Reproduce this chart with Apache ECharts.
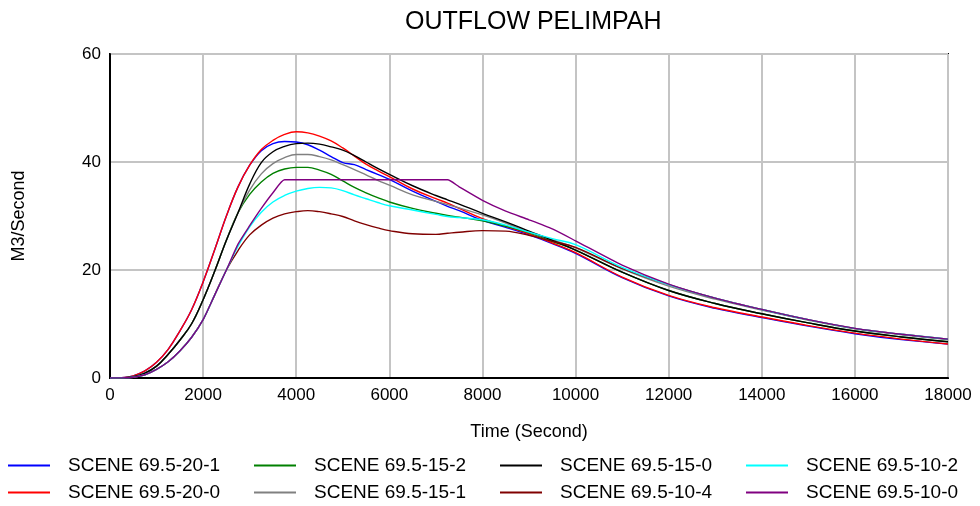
<!DOCTYPE html>
<html>
<head>
<meta charset="utf-8">
<script src="https://cdn.jsdelivr.net/npm/echarts@6/dist/echarts.min.js"></script>
<style>html,body{margin:0;padding:0;background:#fff;}#c{width:980px;height:506px;}</style>
</head>
<body>
<div id="c"></div>
<script>
// Time (Second)
const time = [0,250,500,750,1000,1250,1500,1750,2000,2250,2500,2750,3000,3250,3500,3750,4000,4250,4500,4750,5000,5250,5500,5750,6000,6500,7000,7250,7500,8000,8500,9000,9500,10000,11000,12000,13000,14000,15000,16000,17000,18000];

const scene20_1 = [0,0.05,0.4,1.3,2.9,5.3,8.7,12.6,17.8,
  23.8,30.0,35.4,39.4,42.1,43.4,43.8,43.7,43.2,42.2,41.0,39.9,
  39.5,38.6,37.7,36.8, 34.6,32.7,31.8,31.0, 29.2,27.9,26.5,24.9,23.1,
  18.6,15.2,12.9,11.2,9.6,8.2,7.1,6.3];
const scene20_0 = [0,0.05,0.4,1.3,2.9,5.3,8.7,12.6,17.8,
  23.8,30.0,35.4,39.4,42.3,44.0,45.1,45.6,45.4,44.8,43.9,42.6,
  41.1,39.6,38.4,37.3, 35.0,33.2,32.4,31.4, 29.5,28.1,26.7,25.0,23.2,
  18.7,15.3,13.0,11.3,9.7,8.3,7.2,6.3];
const scene15_2 = [0,0.03,0.25,0.9,2.2,4.4,7.0,10.0,14.5,
  19.8,25.5,30.6,34.0,36.3,37.9,38.7,39.0,39.0,38.5,37.7,36.5,
  35.3,34.3,33.4,32.6, 31.4,30.5,30.1,29.8, 29.1,28.1,26.9,25.3,23.7,
  19.6,16.2,13.8,11.9,10.2,8.7,7.6,6.7];
const scene15_1 = [0,0.03,0.25,0.9,2.2,4.4,7.0,10.0,14.5,
  19.8,25.5,30.6,34.8,37.8,39.7,40.8,41.4,41.4,41.0,40.4,39.5,
  38.6,37.6,36.6,35.7, 33.9,32.7,32.1,31.5, 30.2,28.7,27.0,25.6,24.1,
  20.2,17.0,14.6,12.6,10.7,9.1,8.0,7.1];
const scene15_0 = [0,0.03,0.25,0.9,2.2,4.4,7.0,10.0,14.5,
  19.8,25.5,30.6,35.9,39.9,41.9,42.9,43.4,43.5,43.3,42.8,42.2,
  41.2,40.0,38.8,37.7, 35.6,33.8,33.0,32.2, 30.5,28.9,27.2,25.5,23.7,
  19.6,16.2,13.8,11.9,10.2,8.7,7.6,6.7];
const scene10_4 = [0,0.02,0.15,0.6,1.6,3.0,5.0,7.5,10.8,
  15.4,20.0,23.6,26.5,28.3,29.6,30.4,30.8,31.0,30.8,30.4,29.9,
  29.1,28.4,27.8,27.3, 26.7,26.6,26.8,27.0, 27.3,27.2,26.4,25.3,24.2,
  20.3,17.3,14.8,12.7,10.8,9.2,8.1,7.2];
const scene10_2 = [0,0.02,0.15,0.6,1.6,3.0,5.0,7.5,10.8,
  15.4,20.0,24.4,28.0,30.7,32.6,33.8,34.6,35.1,35.3,35.2,34.7,
  33.9,33.2,32.5,31.9, 31.1,30.3,29.9,29.7, 29.3,28.3,27.0,25.8,24.7,
  20.5,17.3,14.8,12.7,10.8,9.2,8.1,7.2];
const scene10_0 = [0,0.02,0.15,0.6,1.6,3.0,5.0,7.5,10.8,
  15.4,20.0,24.8,28.2,31.4,34.3,36.7,36.7,36.7,36.7,36.7,36.7,
  36.7,36.7,36.7,36.7, 36.7,36.7,36.7,35.4, 32.9,30.9,29.3,27.6,25.4,
  20.9,17.4,14.8,12.7,10.8,9.2,8.1,7.2];

const seriesNames = ['SCENE 69.5-20-1','SCENE 69.5-20-0','SCENE 69.5-15-2','SCENE 69.5-15-1','SCENE 69.5-15-0','SCENE 69.5-10-4','SCENE 69.5-10-2','SCENE 69.5-10-0'];
const seriesValues = [scene20_1, scene20_0, scene15_2, scene15_1, scene15_0, scene10_4, scene10_2, scene10_0];
const seriesColors = ['#0000ff','#ff0000','#008000','#808080','#000000','#800000','#00ffff','#800080'];
const xTicks = {min:0, max:18000, interval:2000};
const yTicks = {min:0, max:60, interval:20};

const FONT = 'Liberation Sans, Arial, sans-serif';
const chart = echarts.init(document.getElementById('c'), null, {renderer:'canvas'});

const series = seriesNames.map((n,i)=>({
  name:n, type:'line', showSymbol:false, symbol:'none',
  smooth: i===7 ? 0.2 : 0.4,
  color: seriesColors[i],
  lineStyle:{width:1.4, color:seriesColors[i]},
  data: time.map((t,k)=>[t, seriesValues[i][k]])
}));

// legend layout: 4 columns x 2 rows
const legendOrder = [0,2,4,6,1,3,5,7];
const colLeft = [8,254,500,746];
const rowTop = [456,483];
const legends = legendOrder.map((si,k)=>({
  data:[seriesNames[si]], left: colLeft[k%4], top: rowTop[Math.floor(k/4)],
  padding:0, itemWidth:42, itemHeight:2, icon:'rect',
  textStyle:{fontFamily:FONT, fontSize:19, color:'#000', padding:[0,0,0,13]}
}));

chart.setOption({
  animation:false,
  backgroundColor:'#fff',
  title:{text:'OUTFLOW PELIMPAH', left:400, top:5,
    textStyle:{fontFamily:FONT, fontSize:25, fontWeight:'normal', color:'#000'}},
  legend: legends,
  grid:{left:110, right:32, top:54, bottom:128, show:true, borderColor:'#000', borderWidth:2, backgroundColor:'transparent'},
  xAxis:{type:'value', min:xTicks.min, max:xTicks.max, interval:xTicks.interval,
    name:'Time (Second)', nameLocation:'middle', nameGap:45,
    nameTextStyle:{fontFamily:FONT, fontSize:18, color:'#000'},
    axisLine:{show:true, lineStyle:{color:'#000', width:2}},
    axisTick:{show:false},
    axisLabel:{fontFamily:FONT, fontSize:17, color:'#000', margin:9, formatter:(v)=>String(v)},
    splitLine:{show:true, lineStyle:{color:'#c4c4c4', width:2}}},
  yAxis:{type:'value', min:yTicks.min, max:yTicks.max, interval:yTicks.interval,
    name:'M3/Second', nameLocation:'middle', nameGap:82, nameRotate:90,
    nameTextStyle:{fontFamily:FONT, fontSize:18, color:'#000'},
    axisLine:{show:true, lineStyle:{color:'#000', width:2}},
    axisTick:{show:false},
    axisLabel:{fontFamily:FONT, fontSize:17, color:'#000', margin:9, formatter:(v)=>String(v)},
    splitLine:{show:true, lineStyle:{color:'#c4c4c4', width:2}}},
  series: series
});
</script>
</body>
</html>
